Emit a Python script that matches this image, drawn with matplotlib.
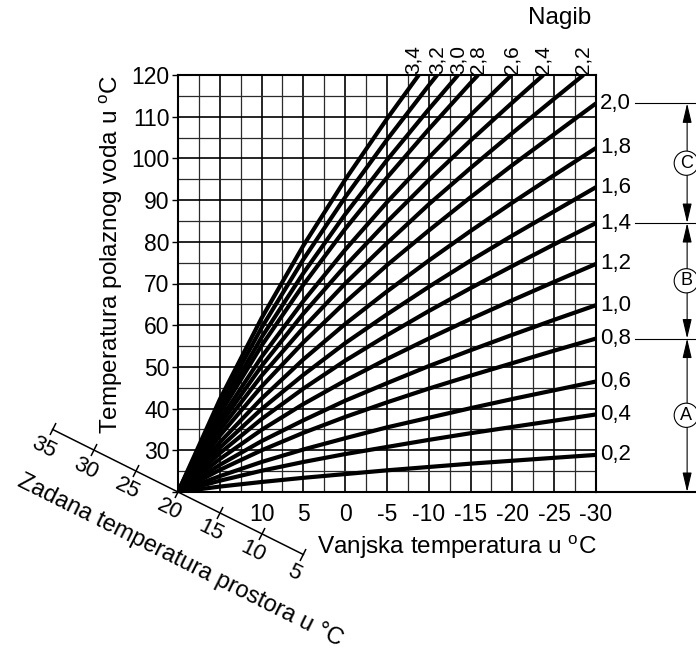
import numpy as np
import matplotlib.pyplot as plt
from matplotlib.markers import MarkerStyle
from matplotlib.transforms import Affine2D, blended_transform_factory

plt.rcParams['font.family'] = ['Liberation Sans', 'DejaVu Sans']

# outdoor temperatures (x) used for the heating curves
outdoor = [20, 15, 10, 5, 0, -5, -10, -15, -20, -25, -30]

# curves that reach the right edge (-30 °C), flow temp values
curve_02 = [20, 21.3, 22.4, 23.4, 24.3, 25.2, 26.0, 26.8, 27.5, 28.2, 28.9]
curve_04 = [20, 22.7, 25.1, 27.2, 29.1, 30.8, 32.5, 34.1, 35.6, 37.1, 38.6]
curve_06 = [20, 23.8, 27.2, 30.2, 32.9, 35.5, 37.8, 40.1, 42.3, 44.4, 46.5]
curve_08 = [20, 25.3, 30.0, 34.2, 38.0, 41.5, 44.8, 47.9, 50.9, 53.9, 56.8]
curve_10 = [20, 26.5, 32.2, 37.2, 41.9, 46.1, 50.2, 54.0, 57.7, 61.3, 64.8]
curve_12 = [20, 27.9, 34.9, 41.1, 46.7, 51.9, 56.8, 61.5, 66.0, 70.4, 74.7]
curve_14 = [20, 29.3, 37.5, 44.8, 51.5, 57.6, 63.4, 68.9, 74.2, 79.4, 84.5]
curve_16 = [20, 30.6, 39.9, 48.1, 55.7, 62.6, 69.2, 75.5, 81.5, 87.3, 93.1]
curve_18 = [20, 31.9, 42.4, 51.8, 60.3, 68.1, 75.5, 82.6, 89.4, 96.0, 102.5]
curve_20 = [20, 33.5, 45.3, 55.9, 65.5, 74.4, 82.7, 90.7, 98.4, 105.8, 113.2]
flat_labels = ['0,2', '0,4', '0,6', '0,8', '1,0', '1,2', '1,4', '1,6', '1,8', '2,0']
flat_curves = [curve_02, curve_04, curve_06, curve_08, curve_10,
               curve_12, curve_14, curve_16, curve_18, curve_20]

# curves that leave through the top (120 °C); last value is at the crossing point
curve_22 = [20, 34.8, 47.9, 59.4, 70.0, 79.7, 89.0, 97.7, 106.1, 114.3, 120]
curve_24 = [20, 36.1, 50.2, 62.8, 74.2, 84.8, 94.8, 104.3, 113.4, 120]
curve_26 = [20, 37.2, 52.4, 65.8, 78.1, 89.5, 100.2, 110.4, 120]
curve_28 = [20, 38.7, 55.1, 69.7, 83.1, 95.4, 107.0, 118.1, 120]
curve_30 = [20, 39.7, 57.1, 72.5, 86.6, 99.6, 111.8, 120]
curve_32 = [20, 41.0, 59.4, 75.8, 90.7, 104.5, 117.5, 120]
curve_34 = [20, 42.2, 61.7, 79.1, 94.9, 109.5, 120]
steep_labels = ['2,2', '2,4', '2,6', '2,8', '3,0', '3,2', '3,4']
steep_cross = [-28.5, -23.7, -19.9, -15.9, -13.5, -11.0, -8.8]
steep_curves = [curve_22, curve_24, curve_26, curve_28, curve_30, curve_32, curve_34]

x_ticks = [20, 15, 10, 5, 0, -5, -10, -15, -20, -25, -30]
x_tick_text = ['', '', '10', '5', '0', '-5', '-10', '-15', '-20', '-25', '-30']
y_ticks = [20, 30, 40, 50, 60, 70, 80, 90, 100, 110, 120]
y_tick_text = ['', '30', '40', '50', '60', '70', '80', '90', '100', '110', '120']
room_ticks = [35, 30, 25, 20, 15, 10, 5]
band_letters = ['C', 'B', 'A']

fig = plt.figure(figsize=(6.96, 6.57), dpi=100)
ax = fig.add_axes([178 / 696, 1 - 492 / 657, 418 / 696, 417 / 657])
ax.set_xlim(20, -30)
ax.set_ylim(20, 120)

ax.set_xticks(x_ticks, labels=x_tick_text)
ax.set_xticks(np.arange(20, -31, -2.5), minor=True)
ax.set_yticks(y_ticks, labels=y_tick_text)
ax.set_yticks(np.arange(20, 121, 5), minor=True)
ax.grid(which='major', color='black', lw=1.2)
ax.grid(which='minor', color='#2a2a2a', lw=0.9)
ax.set_axisbelow(True)
ax.tick_params(axis='x', which='both', length=0, pad=8, labelsize=16.5)
ax.tick_params(axis='y', which='major', length=4, width=1.0, pad=2, labelsize=16.5)
ax.tick_params(axis='y', which='minor', length=0)
for sp in ax.spines.values():
    sp.set_linewidth(1.5)

# heating curves
for lab, ys in zip(flat_labels, flat_curves):
    ax.plot(outdoor, ys, color='black', lw=3.0, solid_capstyle='butt', zorder=3)
    ax.annotate(lab, xy=(-30, ys[-1]), xytext=(3, 0), textcoords='offset points',
                ha='left', va='center', fontsize=16, annotation_clip=False)

for lab, cross, ys in zip(steep_labels, steep_cross, steep_curves):
    xs = outdoor[:len(ys) - 1] + [cross]
    ax.plot(xs, ys, color='black', lw=3.0, solid_capstyle='butt', zorder=3)
    dx = -4 if lab == '3,4' else 0  # the two leftmost labels sit very close together
    ax.annotate(lab, xy=(cross, 120), xytext=(dx, 1), textcoords='offset points',
                rotation=90, ha='center', va='bottom', fontsize=15, annotation_clip=False)

# diagonal axis for the room set temperature
ax.plot(room_ticks, room_ticks, color='black', lw=1.1, clip_on=False)
p0 = ax.transData.transform((35, 35))
p1 = ax.transData.transform((5, 5))
ang = np.degrees(np.arctan2(p1[1] - p0[1], p1[0] - p0[0]))
ux, uy = np.cos(np.radians(ang)), np.sin(np.radians(ang))
nx, ny = uy, -ux  # points below the line
mk = MarkerStyle('|', transform=Affine2D().rotate_deg(ang))
ax.plot(room_ticks, room_ticks, ls='none', marker=mk, ms=9, mew=1.1,
        color='black', clip_on=False)
for r in room_ticks:
    ax.annotate(str(r), xy=(r, r), xytext=(20 * nx, 20 * ny), textcoords='offset pixels',
                rotation=ang, rotation_mode='anchor', ha='center', va='center',
                fontsize=16, annotation_clip=False)
ax.annotate('Zadana temperatura prostora u °C', xy=(16.5, 16.5),
            xytext=(60 * nx, 60 * ny), textcoords='offset pixels',
            rotation=ang, rotation_mode='anchor', ha='center', va='center',
            fontsize=17, annotation_clip=False)

fig.text(317 / 696, 1 - 547 / 657, 'Vanjska temperatura u $^\\mathregular{o}$C',
         ha='left', va='center', fontsize=17.5)
fig.text(111 / 696, 1 - 254 / 657, 'Temperatura polaznog voda u $^\\mathregular{o}$C',
         rotation=90, ha='center', va='center', fontsize=17.5)
fig.text(560 / 696, 1 - 18 / 657, 'Nagib', ha='center', va='center', fontsize=17.5)

# range markers A / B / C on the right
tr = blended_transform_factory(ax.transAxes, ax.transData)
edges = [curve_20[-1], curve_14[-1], curve_08[-1], 20]
for y in edges[:3]:
    ax.plot([1.093, 1.25], [y, y], transform=tr, color='black', lw=0.8, clip_on=False)
ax.plot([1.0, 1.25], [20, 20], transform=tr, color='black', lw=1.5, clip_on=False)
for i, lab in enumerate(band_letters):
    top, bot = edges[i], edges[i + 1]
    ax.annotate('', xy=(1.218, top), xytext=(1.218, bot), xycoords=tr, textcoords=tr,
                arrowprops=dict(arrowstyle='<|-|>,head_length=0.85,head_width=0.2',
                                mutation_scale=14, color='black', lw=0.8,
                                shrinkA=0, shrinkB=0),
                annotation_clip=False)
    ax.text(1.216, (top + bot) / 2, lab, transform=tr, ha='center', va='center',
            fontsize=13, zorder=5,
            bbox=dict(boxstyle='circle,pad=0.2', fc='white', ec='black', lw=0.8))

fig.savefig('out.png', dpi=100)
